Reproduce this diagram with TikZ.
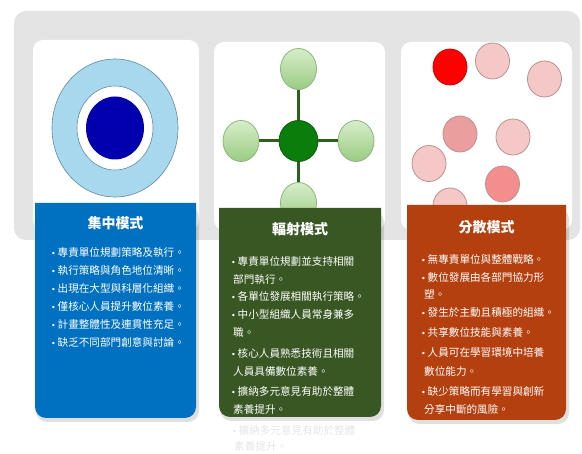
\documentclass[tikz,border=0pt]{standalone}
\usepackage{fontspec}
\setmainfont{Noto Sans CJK TC}
\newfontfamily\dejavu{DejaVu Sans}
\usetikzlibrary{shapes.geometric}
\definecolor{bgray}{HTML}{E4E4E4}
\definecolor{cblue}{HTML}{0070C0}
\definecolor{cgreen}{HTML}{385723}
\definecolor{cred}{HTML}{B5400F}
\definecolor{ringblue}{HTML}{A8D8EE}
\definecolor{ringline}{HTML}{5F8AA0}
\definecolor{coreblue}{HTML}{0000AE}
\definecolor{hubgreen}{HTML}{0A7D0A}
\definecolor{hubline}{HTML}{0B5A0B}
\definecolor{spokegreen}{HTML}{2F5F1F}
\definecolor{leaftop}{HTML}{D6EEC9}
\definecolor{leafbot}{HTML}{9ACB83}
\definecolor{leafline}{HTML}{8BB57C}
\definecolor{pinkline}{HTML}{BE8E8E}
\definecolor{pinkA}{HTML}{F5C8C8}
\definecolor{pinkB}{HTML}{EB9E9E}
\definecolor{pinkC}{HTML}{F48E8E}
\definecolor{faint}{HTML}{E6E6E6}
\newcommand\bl{\makebox[6.5pt][l]{\dejavu\fontsize{8}{9}\selectfont •}}
\tikzset{
  panel/.style={fill=white, rounded corners=10pt},
  leaf/.style={ellipse, draw=leafline, line width=0.8pt, top color=leaftop, bottom color=leafbot, minimum width=36pt, minimum height=41pt, inner sep=0pt},
  spoke/.style={draw=spokegreen, line width=3pt},
  dot/.style={ellipse, draw=pinkline, line width=0.8pt, minimum width=34pt, minimum height=36pt, inner sep=0pt},
  title/.style={font=\bfseries\fontsize{14}{16}\selectfont, text=white, anchor=center, inner sep=0pt},
  bullet/.style={font=\fontsize{10.6}{12}\selectfont, text=white, anchor=base west, inner sep=0pt},
  ghost/.style={font=\fontsize{10.6}{12}\selectfont, text=faint, anchor=base west, inner sep=0pt},
  shade/.style={fill=black, opacity=0.12}
}
\begin{document}
\begin{tikzpicture}[x=1pt, y=-1pt]
\useasboundingbox[fill=white] (0,0) rectangle (582,454);
% grey background
\fill[bgray, rounded corners=12pt] (14,11) rectangle (580,240);
% white panels
\fill[panel] (33,40) rectangle (199,230);
\fill[panel] (214,42) rectangle (385,230);
\fill[panel] (401,42) rectangle (572,230);

% panel 1: concentric
\node[ellipse, draw=ringline, fill=ringblue, line width=0.6pt, minimum width=126pt, minimum height=138pt, inner sep=0pt] (outer) at (115,128) {};
\node[ellipse, draw=ringline, fill=white, line width=0.6pt, minimum width=76pt, minimum height=84pt, inner sep=0pt] (ring) at (115,128) {};
\node[ellipse, fill=coreblue, minimum width=58pt, minimum height=63pt, inner sep=0pt] (core) at (115,128) {};

% panel 2: radial
\node[ellipse, draw=hubline, fill=hubgreen, line width=0.8pt, minimum width=39pt, minimum height=41pt, inner sep=0pt] (hub) at (298.5,141) {};
\node[leaf] (ltop) at (298.5,69) {};
\node[leaf] (lleft) at (241,141) {};
\node[leaf] (lright) at (356,141) {};
\node[leaf] (lbot) at (298.5,203) {};
\draw[spoke] (hub) -- (ltop);
\draw[spoke] (hub) -- (lleft);
\draw[spoke] (hub) -- (lright);
\draw[spoke] (hub) -- (lbot);

% panel 3: scattered
\node[dot, fill=red, draw=red!80!black] (d1) at (450,67) {};
\node[dot, fill=pinkA] (d2) at (492.5,61) {};
\node[dot, fill=pinkA] (d3) at (544.5,79) {};
\node[dot, fill=pinkB] (d4) at (460,134) {};
\node[dot, fill=pinkA] (d5) at (513,137) {};
\node[dot, fill=pinkA] (d6) at (429,163.5) {};
\node[dot, fill=pinkC] (d7) at (502.5,184) {};
\node[dot, fill=pinkA] (d8) at (450,206) {};

% coloured boxes with shadows
\fill[shade, rounded corners=11pt] (36,206) rectangle (199,422);
\fill[cblue] (35,203) -- (196,203) [rounded corners=11pt] -- (196,418) -- (35,418) [sharp corners] -- cycle;
\fill[shade, rounded corners=11pt] (220,211) rectangle (384,421);
\fill[cgreen] (219,208) -- (381,208) [rounded corners=11pt] -- (381,417) -- (219,417) [sharp corners] -- cycle;
\fill[shade, rounded corners=11pt] (408,208) rectangle (569,424);
\fill[cred] (407,205) -- (566,205) [rounded corners=11pt] -- (566,420) -- (407,420) [sharp corners] -- cycle;

% titles
\node[title] (t1) at (115.5,223) {集中模式};
\node[title] (t2) at (300,229) {輻射模式};
\node[title] (t3) at (486.5,227) {分散模式};

% blue bullets
\foreach \y/\t [count=\i] in {
  257/{\bl 專責單位規劃策略及執行。},
  275/{\bl 執行策略與角色地位清晰。},
  293/{\bl 出現在大型與科層化組織。},
  311/{\bl 僅核心人員提升數位素養。},
  329/{\bl 計畫整體性及連貫性充足。},
  347/{\bl 缺乏不同部門創意與討論。}}
  \node[bullet] (b\i) at (51,\y) {\t};

% green bullets
\foreach \x/\y/\t [count=\i] in {
  231/266/{\bl 專責單位規劃並支持相關},
  233/284/{部門執行。},
  231/301/{\bl 各單位發展相關執行策略。},
  231/319/{\bl 中小型組織人員常身兼多},
  233/337/{職。},
  231/358/{\bl 核心人員熟悉技術且相關},
  233/376/{人員具備數位素養。},
  231/396/{\bl 擴納多元意見有助於整體},
  233/414/{素養提升。}}
  \node[bullet] (g\i) at (\x,\y) {\t};

% red bullets
\foreach \x/\y/\t [count=\i] in {
  421/264/{\bl 無專責單位與整體戰略。},
  421/282/{\bl 數位發展由各部門協力形},
  424/299/{塑。},
  421/317/{\bl 發生於主動且積極的組織。},
  421/337/{\bl 共享數位技能與素養。},
  421/357/{\bl 人員可在學習環境中培養},
  424/376/{數位能力。},
  421/396/{\bl 缺少策略而有學習與創新},
  424/414/{分享中斷的風險。}}
  \node[bullet] (r\i) at (\x,\y) {\t};

% faint overflow text
\node[ghost] (f1) at (232,435) {\bl 擴納多元意見有助於整體};
\node[ghost] (f2) at (234,451) {素養提升。};
\end{tikzpicture}
\end{document}
